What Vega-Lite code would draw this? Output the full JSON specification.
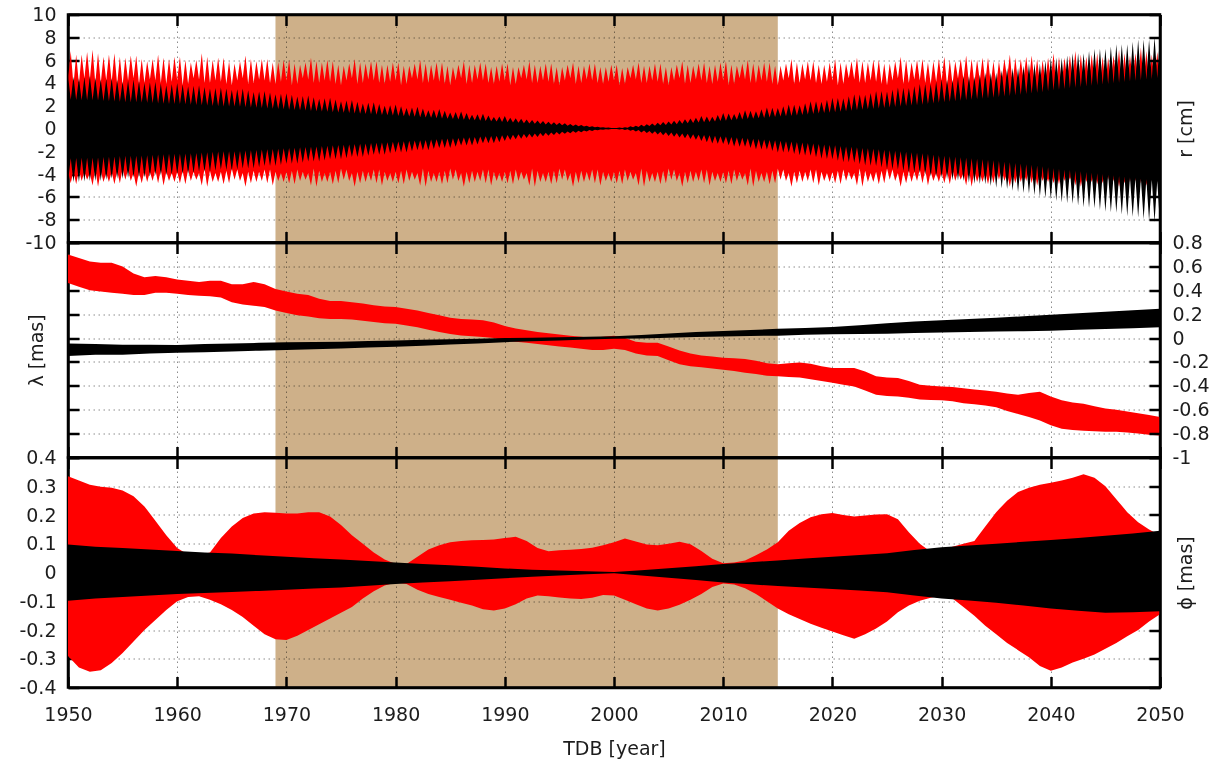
{
  "$schema": "https://vega.github.io/schema/vega-lite/v6.json",
  "background": "white",
  "padding": {"left": 17, "top": 3.5, "right": 5, "bottom": 5},
  "spacing": 0,
  "bounds": "flush",
  "config": {
    "font": "DejaVu Sans",
    "locale": {"number": {"decimal": ".", "thousands": ",", "grouping": [3], "currency": ["$", ""], "minus": "-"}},
    "view": {"stroke": "#000000", "strokeWidth": 2.5},
    "axis": {
      "labelFont": "DejaVu Sans", "labelFontSize": 19, "labelColor": "#1c1c1c",
      "titleFont": "DejaVu Sans", "titleFontSize": 19, "titleFontWeight": "normal", "titleColor": "#1c1c1c",
      "domain": true, "domainColor": "#000000", "domainWidth": 2.5,
      "ticks": true, "tickColor": "#000000", "tickWidth": 2.5, "tickSize": -11,
      "gridColor": "#8c8c8c", "gridWidth": 1, "gridDash": [1.5, 3.5],
      "labelPadding": 23, "labelFlush": false, "labelOverlap": false,
      "minExtent": 0, "maxExtent": 0
    }
  },
  "datasets": {
    "band": [{"start": 1969, "end": 2015}],
    "r": [
      {"t":1950,"a":4.2,"b":-3.8,"c":4.7,"d":-4.7},{"t":1950.25,"a":6.8,"b":-4.8,"c":2.53,"d":-2.62},{"t":1950.5,"a":3.8,"b":-3.7,"c":4.55,"d":-4.7},{"t":1950.75,"a":6.5,"b":-4.9,"c":2.5,"d":-2.59},
      {"t":1951,"a":3.9,"b":-3.6,"c":4.4,"d":-4.7},{"t":1951.25,"a":6.5,"b":-4.6,"c":2.48,"d":-2.57},{"t":1951.5,"a":4.4,"b":-3.8,"c":4.5,"d":-4.65},{"t":1951.75,"a":6.7,"b":-4.5,"c":2.48,"d":-2.57},
      {"t":1952,"a":4.3,"b":-3.9,"c":4.6,"d":-4.6},{"t":1952.25,"a":6.9,"b":-5.0,"c":2.48,"d":-2.57},{"t":1952.5,"a":4.0,"b":-3.5,"c":4.45,"d":-4.6},{"t":1952.75,"a":6.6,"b":-5.1,"c":2.45,"d":-2.54},
      {"t":1953,"a":4.0,"b":-3.7,"c":4.3,"d":-4.6},{"t":1953.25,"a":6.3,"b":-4.7,"c":2.42,"d":-2.51},{"t":1953.5,"a":4.2,"b":-3.9,"c":4.35,"d":-4.5},{"t":1953.75,"a":6.5,"b":-4.7,"c":2.39,"d":-2.48},
      {"t":1954,"a":4.1,"b":-3.8,"c":4.4,"d":-4.4},{"t":1954.25,"a":6.6,"b":-4.9,"c":2.37,"d":-2.45},{"t":1954.5,"a":3.9,"b":-3.7,"c":4.25,"d":-4.4},{"t":1954.75,"a":6.3,"b":-4.8,"c":2.34,"d":-2.42},
      {"t":1955,"a":3.8,"b":-3.5,"c":4.1,"d":-4.4},{"t":1955.25,"a":6.2,"b":-4.5,"c":2.31,"d":-2.39},{"t":1955.5,"a":4.2,"b":-3.6,"c":4.2,"d":-4.35},{"t":1955.75,"a":6.4,"b":-4.6,"c":2.31,"d":-2.39},
      {"t":1956,"a":4.4,"b":-3.9,"c":4.3,"d":-4.3},{"t":1956.25,"a":6.4,"b":-5.1,"c":2.31,"d":-2.39},{"t":1956.5,"a":3.9,"b":-3.8,"c":4.15,"d":-4.3},{"t":1956.75,"a":6.1,"b":-4.8,"c":2.28,"d":-2.37},
      {"t":1957,"a":4.0,"b":-3.7,"c":4.0,"d":-4.3},{"t":1957.25,"a":5.9,"b":-4.7,"c":2.26,"d":-2.34},{"t":1957.5,"a":4.3,"b":-3.8,"c":4.05,"d":-4.2},{"t":1957.75,"a":6.1,"b":-4.6,"c":2.23,"d":-2.31},
      {"t":1958,"a":4.2,"b":-3.6,"c":4.1,"d":-4.1},{"t":1958.25,"a":6.5,"b":-4.8,"c":2.2,"d":-2.28},{"t":1958.5,"a":4.0,"b":-3.6,"c":3.95,"d":-4.1},{"t":1958.75,"a":6.2,"b":-5.0,"c":2.17,"d":-2.25},
      {"t":1959,"a":3.9,"b":-3.8,"c":3.8,"d":-4.1},{"t":1959.25,"a":6.1,"b":-4.6,"c":2.15,"d":-2.22},{"t":1959.5,"a":4.1,"b":-3.9,"c":3.9,"d":-4.05},{"t":1959.75,"a":6.3,"b":-4.7,"c":2.15,"d":-2.22},
      {"t":1960,"a":4.2,"b":-3.8,"c":4.0,"d":-4.0},{"t":1960.25,"a":6.3,"b":-4.8,"c":2.15,"d":-2.22},{"t":1960.5,"a":3.8,"b":-3.7,"c":3.85,"d":-4.0},{"t":1960.75,"a":6.0,"b":-4.9,"c":2.12,"d":-2.19},
      {"t":1961,"a":3.9,"b":-3.6,"c":3.7,"d":-4.0},{"t":1961.25,"a":5.8,"b":-4.6,"c":2.09,"d":-2.17},{"t":1961.5,"a":4.4,"b":-3.8,"c":3.75,"d":-3.9},{"t":1961.75,"a":6.0,"b":-4.5,"c":2.06,"d":-2.14},
      {"t":1962,"a":4.3,"b":-3.9,"c":3.8,"d":-3.8},{"t":1962.25,"a":6.6,"b":-5.0,"c":2.04,"d":-2.11},{"t":1962.5,"a":4.0,"b":-3.5,"c":3.65,"d":-3.8},{"t":1962.75,"a":6.3,"b":-5.1,"c":2.01,"d":-2.08},
      {"t":1963,"a":4.0,"b":-3.7,"c":3.5,"d":-3.8},{"t":1963.25,"a":6.0,"b":-4.7,"c":1.98,"d":-2.05},{"t":1963.5,"a":4.2,"b":-3.9,"c":3.55,"d":-3.7},{"t":1963.75,"a":6.2,"b":-4.7,"c":1.95,"d":-2.02},
      {"t":1964,"a":4.1,"b":-3.8,"c":3.6,"d":-3.6},{"t":1964.25,"a":6.2,"b":-4.9,"c":1.93,"d":-2.0},{"t":1964.5,"a":3.9,"b":-3.7,"c":3.5,"d":-3.65},{"t":1964.75,"a":5.9,"b":-4.8,"c":1.93,"d":-2.0},
      {"t":1965,"a":3.8,"b":-3.5,"c":3.4,"d":-3.7},{"t":1965.25,"a":5.7,"b":-4.5,"c":1.93,"d":-2.0},{"t":1965.5,"a":4.2,"b":-3.6,"c":3.45,"d":-3.6},{"t":1965.75,"a":5.9,"b":-4.6,"c":1.9,"d":-1.97},
      {"t":1966,"a":4.4,"b":-3.9,"c":3.5,"d":-3.5},{"t":1966.25,"a":6.4,"b":-5.1,"c":1.87,"d":-1.94},{"t":1966.5,"a":3.9,"b":-3.8,"c":3.35,"d":-3.5},{"t":1966.75,"a":6.1,"b":-4.8,"c":1.84,"d":-1.91},
      {"t":1967,"a":4.0,"b":-3.7,"c":3.2,"d":-3.5},{"t":1967.25,"a":5.9,"b":-4.7,"c":1.82,"d":-1.88},{"t":1967.5,"a":4.3,"b":-3.8,"c":3.25,"d":-3.4},{"t":1967.75,"a":6.1,"b":-4.6,"c":1.79,"d":-1.85},
      {"t":1968,"a":4.2,"b":-3.6,"c":3.3,"d":-3.3},{"t":1968.25,"a":6.1,"b":-4.8,"c":1.76,"d":-1.82},{"t":1968.5,"a":4.0,"b":-3.6,"c":3.15,"d":-3.3},{"t":1968.75,"a":5.8,"b":-5.0,"c":1.73,"d":-1.8},
      {"t":1969,"a":3.9,"b":-3.8,"c":3.0,"d":-3.3},{"t":1969.25,"a":5.8,"b":-4.6,"c":1.71,"d":-1.77},{"t":1969.5,"a":4.1,"b":-3.9,"c":3.05,"d":-3.2},{"t":1969.75,"a":6.0,"b":-4.7,"c":1.68,"d":-1.74},
      {"t":1970,"a":4.2,"b":-3.8,"c":3.1,"d":-3.1},{"t":1970.25,"a":6.0,"b":-4.8,"c":1.65,"d":-1.71},{"t":1970.5,"a":3.8,"b":-3.7,"c":2.95,"d":-3.1},{"t":1970.75,"a":5.7,"b":-4.9,"c":1.62,"d":-1.68},
      {"t":1971,"a":3.9,"b":-3.6,"c":2.8,"d":-3.1},{"t":1971.25,"a":5.6,"b":-4.6,"c":1.6,"d":-1.65},{"t":1971.5,"a":4.4,"b":-3.8,"c":2.85,"d":-3.0},{"t":1971.75,"a":5.8,"b":-4.5,"c":1.57,"d":-1.62},
      {"t":1972,"a":4.3,"b":-3.9,"c":2.9,"d":-2.9},{"t":1972.25,"a":6.2,"b":-5.0,"c":1.54,"d":-1.6},{"t":1972.5,"a":4.0,"b":-3.5,"c":2.75,"d":-2.9},{"t":1972.75,"a":5.9,"b":-5.1,"c":1.51,"d":-1.57},
      {"t":1973,"a":4.0,"b":-3.7,"c":2.6,"d":-2.9},{"t":1973.25,"a":5.8,"b":-4.7,"c":1.49,"d":-1.54},{"t":1973.5,"a":4.2,"b":-3.9,"c":2.65,"d":-2.8},{"t":1973.75,"a":6.0,"b":-4.7,"c":1.46,"d":-1.51},
      {"t":1974,"a":4.1,"b":-3.8,"c":2.7,"d":-2.7},{"t":1974.25,"a":5.9,"b":-4.9,"c":1.43,"d":-1.48},{"t":1974.5,"a":3.9,"b":-3.7,"c":2.55,"d":-2.7},{"t":1974.75,"a":5.6,"b":-4.8,"c":1.4,"d":-1.45},
      {"t":1975,"a":3.8,"b":-3.5,"c":2.4,"d":-2.7},{"t":1975.25,"a":5.5,"b":-4.5,"c":1.38,"d":-1.43},{"t":1975.5,"a":4.2,"b":-3.6,"c":2.45,"d":-2.6},{"t":1975.75,"a":5.7,"b":-4.6,"c":1.35,"d":-1.4},
      {"t":1976,"a":4.4,"b":-3.9,"c":2.5,"d":-2.5},{"t":1976.25,"a":6.1,"b":-5.1,"c":1.32,"d":-1.37},{"t":1976.5,"a":3.9,"b":-3.8,"c":2.35,"d":-2.5},{"t":1976.75,"a":5.8,"b":-4.8,"c":1.29,"d":-1.34},
      {"t":1977,"a":4.0,"b":-3.7,"c":2.2,"d":-2.5},{"t":1977.25,"a":5.7,"b":-4.7,"c":1.27,"d":-1.31},{"t":1977.5,"a":4.3,"b":-3.8,"c":2.25,"d":-2.4},{"t":1977.75,"a":5.9,"b":-4.6,"c":1.24,"d":-1.28},
      {"t":1978,"a":4.2,"b":-3.6,"c":2.3,"d":-2.3},{"t":1978.25,"a":5.9,"b":-4.8,"c":1.21,"d":-1.25},{"t":1978.5,"a":4.0,"b":-3.6,"c":2.15,"d":-2.3},{"t":1978.75,"a":5.6,"b":-5.0,"c":1.18,"d":-1.23},
      {"t":1979,"a":3.9,"b":-3.8,"c":2.0,"d":-2.3},{"t":1979.25,"a":5.6,"b":-4.6,"c":1.16,"d":-1.2},{"t":1979.5,"a":4.1,"b":-3.9,"c":2.05,"d":-2.2},{"t":1979.75,"a":5.8,"b":-4.7,"c":1.13,"d":-1.17},
      {"t":1980,"a":4.2,"b":-3.8,"c":2.1,"d":-2.1},{"t":1980.25,"a":5.8,"b":-4.8,"c":1.1,"d":-1.14},{"t":1980.5,"a":3.8,"b":-3.7,"c":1.95,"d":-2.1},{"t":1980.75,"a":5.5,"b":-4.9,"c":1.07,"d":-1.11},
      {"t":1981,"a":3.9,"b":-3.6,"c":1.8,"d":-2.1},{"t":1981.25,"a":5.5,"b":-4.6,"c":1.05,"d":-1.08},{"t":1981.5,"a":4.4,"b":-3.8,"c":1.85,"d":-2.0},{"t":1981.75,"a":5.7,"b":-4.5,"c":1.02,"d":-1.05},
      {"t":1982,"a":4.3,"b":-3.9,"c":1.9,"d":-1.9},{"t":1982.25,"a":6.0,"b":-5.0,"c":0.99,"d":-1.03},{"t":1982.5,"a":4.0,"b":-3.5,"c":1.75,"d":-1.9},{"t":1982.75,"a":5.7,"b":-5.1,"c":0.96,"d":-1.0},
      {"t":1983,"a":4.0,"b":-3.7,"c":1.6,"d":-1.9},{"t":1983.25,"a":5.6,"b":-4.7,"c":0.94,"d":-0.97},{"t":1983.5,"a":4.2,"b":-3.9,"c":1.65,"d":-1.8},{"t":1983.75,"a":5.8,"b":-4.7,"c":0.91,"d":-0.94},
      {"t":1984,"a":4.1,"b":-3.8,"c":1.7,"d":-1.7},{"t":1984.25,"a":5.8,"b":-4.9,"c":0.88,"d":-0.91},{"t":1984.5,"a":3.9,"b":-3.7,"c":1.55,"d":-1.7},{"t":1984.75,"a":5.5,"b":-4.8,"c":0.85,"d":-0.88},
      {"t":1985,"a":3.8,"b":-3.5,"c":1.4,"d":-1.7},{"t":1985.25,"a":5.4,"b":-4.5,"c":0.83,"d":-0.86},{"t":1985.5,"a":4.2,"b":-3.6,"c":1.45,"d":-1.6},{"t":1985.75,"a":5.6,"b":-4.6,"c":0.8,"d":-0.83},
      {"t":1986,"a":4.4,"b":-3.9,"c":1.5,"d":-1.5},{"t":1986.25,"a":5.9,"b":-5.1,"c":0.77,"d":-0.8},{"t":1986.5,"a":3.9,"b":-3.8,"c":1.35,"d":-1.5},{"t":1986.75,"a":5.6,"b":-4.8,"c":0.74,"d":-0.77},
      {"t":1987,"a":4.0,"b":-3.7,"c":1.2,"d":-1.5},{"t":1987.25,"a":5.6,"b":-4.7,"c":0.72,"d":-0.74},{"t":1987.5,"a":4.3,"b":-3.8,"c":1.25,"d":-1.4},{"t":1987.75,"a":5.8,"b":-4.6,"c":0.69,"d":-0.71},
      {"t":1988,"a":4.2,"b":-3.6,"c":1.3,"d":-1.3},{"t":1988.25,"a":5.7,"b":-4.8,"c":0.66,"d":-0.68},{"t":1988.5,"a":4.0,"b":-3.6,"c":1.15,"d":-1.3},{"t":1988.75,"a":5.4,"b":-5.0,"c":0.63,"d":-0.66},
      {"t":1989,"a":3.9,"b":-3.8,"c":1.0,"d":-1.3},{"t":1989.25,"a":5.5,"b":-4.6,"c":0.61,"d":-0.63},{"t":1989.5,"a":4.1,"b":-3.9,"c":1.05,"d":-1.2},{"t":1989.75,"a":5.7,"b":-4.7,"c":0.58,"d":-0.6},
      {"t":1990,"a":4.2,"b":-3.8,"c":1.1,"d":-1.1},{"t":1990.25,"a":5.7,"b":-4.8,"c":0.55,"d":-0.57},{"t":1990.5,"a":3.8,"b":-3.7,"c":0.95,"d":-1.0},{"t":1990.75,"a":5.4,"b":-4.9,"c":0.52,"d":-0.54},
      {"t":1991,"a":3.9,"b":-3.6,"c":0.9,"d":-0.95},{"t":1991.25,"a":5.4,"b":-4.6,"c":0.5,"d":-0.51},{"t":1991.5,"a":4.4,"b":-3.8,"c":0.85,"d":-0.89},{"t":1991.75,"a":5.6,"b":-4.5,"c":0.47,"d":-0.48},
      {"t":1992,"a":4.3,"b":-3.9,"c":0.8,"d":-0.84},{"t":1992.25,"a":5.9,"b":-5.0,"c":0.44,"d":-0.46},{"t":1992.5,"a":4.0,"b":-3.5,"c":0.75,"d":-0.79},{"t":1992.75,"a":5.6,"b":-5.1,"c":0.41,"d":-0.43},
      {"t":1993,"a":4.0,"b":-3.7,"c":0.7,"d":-0.74},{"t":1993.25,"a":5.5,"b":-4.7,"c":0.39,"d":-0.4},{"t":1993.5,"a":4.2,"b":-3.9,"c":0.65,"d":-0.68},{"t":1993.75,"a":5.7,"b":-4.7,"c":0.36,"d":-0.37},
      {"t":1994,"a":4.1,"b":-3.8,"c":0.6,"d":-0.63},{"t":1994.25,"a":5.7,"b":-4.9,"c":0.33,"d":-0.34},{"t":1994.5,"a":3.9,"b":-3.7,"c":0.55,"d":-0.58},{"t":1994.75,"a":5.4,"b":-4.8,"c":0.3,"d":-0.31},
      {"t":1995,"a":3.8,"b":-3.5,"c":0.5,"d":-0.53},{"t":1995.25,"a":5.4,"b":-4.5,"c":0.28,"d":-0.29},{"t":1995.5,"a":4.2,"b":-3.6,"c":0.45,"d":-0.47},{"t":1995.75,"a":5.6,"b":-4.6,"c":0.25,"d":-0.26},
      {"t":1996,"a":4.4,"b":-3.9,"c":0.4,"d":-0.42},{"t":1996.25,"a":5.8,"b":-5.1,"c":0.22,"d":-0.23},{"t":1996.5,"a":3.9,"b":-3.8,"c":0.35,"d":-0.37},{"t":1996.75,"a":5.5,"b":-4.8,"c":0.19,"d":-0.2},
      {"t":1997,"a":4.0,"b":-3.7,"c":0.3,"d":-0.32},{"t":1997.25,"a":5.5,"b":-4.7,"c":0.17,"d":-0.17},{"t":1997.5,"a":4.3,"b":-3.8,"c":0.25,"d":-0.26},{"t":1997.75,"a":5.7,"b":-4.6,"c":0.14,"d":-0.14},
      {"t":1998,"a":4.2,"b":-3.6,"c":0.2,"d":-0.21},{"t":1998.25,"a":5.7,"b":-4.8,"c":0.11,"d":-0.11},{"t":1998.5,"a":4.0,"b":-3.6,"c":0.15,"d":-0.16},{"t":1998.75,"a":5.4,"b":-5.0,"c":0.08,"d":-0.09},
      {"t":1999,"a":3.9,"b":-3.8,"c":0.1,"d":-0.11},{"t":1999.25,"a":5.4,"b":-4.6,"c":0.06,"d":-0.06},{"t":1999.5,"a":4.1,"b":-3.9,"c":0.08,"d":-0.08},{"t":1999.75,"a":5.6,"b":-4.7,"c":0.05,"d":-0.05},
      {"t":2000,"a":4.2,"b":-3.8,"c":0.05,"d":-0.05},{"t":2000.25,"a":5.6,"b":-4.8,"c":0.04,"d":-0.04},{"t":2000.5,"a":3.8,"b":-3.7,"c":0.09,"d":-0.09},{"t":2000.75,"a":5.3,"b":-4.9,"c":0.05,"d":-0.05},
      {"t":2001,"a":3.9,"b":-3.6,"c":0.12,"d":-0.13},{"t":2001.25,"a":5.4,"b":-4.6,"c":0.07,"d":-0.07},{"t":2001.5,"a":4.4,"b":-3.8,"c":0.19,"d":-0.2},{"t":2001.75,"a":5.6,"b":-4.5,"c":0.1,"d":-0.11},
      {"t":2002,"a":4.3,"b":-3.9,"c":0.25,"d":-0.26},{"t":2002.25,"a":5.8,"b":-5.0,"c":0.14,"d":-0.14},{"t":2002.5,"a":4.0,"b":-3.5,"c":0.32,"d":-0.34},{"t":2002.75,"a":5.5,"b":-5.1,"c":0.18,"d":-0.18},
      {"t":2003,"a":4.0,"b":-3.7,"c":0.38,"d":-0.4},{"t":2003.25,"a":5.5,"b":-4.7,"c":0.21,"d":-0.22},{"t":2003.5,"a":4.2,"b":-3.9,"c":0.44,"d":-0.46},{"t":2003.75,"a":5.7,"b":-4.7,"c":0.24,"d":-0.25},
      {"t":2004,"a":4.1,"b":-3.8,"c":0.5,"d":-0.53},{"t":2004.25,"a":5.7,"b":-4.9,"c":0.28,"d":-0.29},{"t":2004.5,"a":3.9,"b":-3.7,"c":0.56,"d":-0.59},{"t":2004.75,"a":5.4,"b":-4.8,"c":0.31,"d":-0.32},
      {"t":2005,"a":3.8,"b":-3.5,"c":0.62,"d":-0.65},{"t":2005.25,"a":5.4,"b":-4.5,"c":0.34,"d":-0.35},{"t":2005.5,"a":4.2,"b":-3.6,"c":0.69,"d":-0.72},{"t":2005.75,"a":5.6,"b":-4.6,"c":0.38,"d":-0.39},
      {"t":2006,"a":4.4,"b":-3.9,"c":0.75,"d":-0.79},{"t":2006.25,"a":5.9,"b":-5.1,"c":0.41,"d":-0.43},{"t":2006.5,"a":3.9,"b":-3.8,"c":0.82,"d":-0.86},{"t":2006.75,"a":5.6,"b":-4.8,"c":0.45,"d":-0.47},
      {"t":2007,"a":4.0,"b":-3.7,"c":0.88,"d":-0.92},{"t":2007.25,"a":5.5,"b":-4.7,"c":0.48,"d":-0.5},{"t":2007.5,"a":4.3,"b":-3.8,"c":0.94,"d":-0.99},{"t":2007.75,"a":5.7,"b":-4.6,"c":0.52,"d":-0.54},
      {"t":2008,"a":4.2,"b":-3.6,"c":1.1,"d":-1.1},{"t":2008.25,"a":5.8,"b":-4.8,"c":0.55,"d":-0.57},{"t":2008.5,"a":4.0,"b":-3.6,"c":1.06,"d":-1.21},{"t":2008.75,"a":5.5,"b":-5.0,"c":0.58,"d":-0.6},
      {"t":2009,"a":3.9,"b":-3.8,"c":1.02,"d":-1.32},{"t":2009.25,"a":5.6,"b":-4.6,"c":0.62,"d":-0.64},{"t":2009.5,"a":4.1,"b":-3.9,"c":1.19,"d":-1.34},{"t":2009.75,"a":5.8,"b":-4.7,"c":0.65,"d":-0.68},
      {"t":2010,"a":4.2,"b":-3.8,"c":1.35,"d":-1.35},{"t":2010.25,"a":5.9,"b":-4.8,"c":0.69,"d":-0.71},{"t":2010.5,"a":3.8,"b":-3.7,"c":1.31,"d":-1.46},{"t":2010.75,"a":5.6,"b":-4.9,"c":0.72,"d":-0.75},
      {"t":2011,"a":3.9,"b":-3.6,"c":1.28,"d":-1.58},{"t":2011.25,"a":5.5,"b":-4.6,"c":0.76,"d":-0.79},{"t":2011.5,"a":4.4,"b":-3.8,"c":1.44,"d":-1.59},{"t":2011.75,"a":5.7,"b":-4.5,"c":0.79,"d":-0.82},
      {"t":2012,"a":4.3,"b":-3.9,"c":1.6,"d":-1.6},{"t":2012.25,"a":6.0,"b":-5.0,"c":0.83,"d":-0.86},{"t":2012.5,"a":4.0,"b":-3.5,"c":1.56,"d":-1.71},{"t":2012.75,"a":5.7,"b":-5.1,"c":0.86,"d":-0.89},
      {"t":2013,"a":4.0,"b":-3.7,"c":1.52,"d":-1.82},{"t":2013.25,"a":5.6,"b":-4.7,"c":0.89,"d":-0.92},{"t":2013.5,"a":4.2,"b":-3.9,"c":1.69,"d":-1.84},{"t":2013.75,"a":5.8,"b":-4.7,"c":0.93,"d":-0.96},
      {"t":2014,"a":4.1,"b":-3.8,"c":1.85,"d":-1.85},{"t":2014.25,"a":5.8,"b":-4.9,"c":0.96,"d":-1.0},{"t":2014.5,"a":3.9,"b":-3.7,"c":1.82,"d":-1.97},{"t":2014.75,"a":5.5,"b":-4.8,"c":1.0,"d":-1.04},
      {"t":2015,"a":3.8,"b":-3.5,"c":1.8,"d":-2.1},{"t":2015.25,"a":5.5,"b":-4.5,"c":1.05,"d":-1.08},{"t":2015.5,"a":4.2,"b":-3.6,"c":1.95,"d":-2.1},{"t":2015.75,"a":5.7,"b":-4.6,"c":1.07,"d":-1.11},
      {"t":2016,"a":4.4,"b":-3.9,"c":2.1,"d":-2.1},{"t":2016.25,"a":6.1,"b":-5.1,"c":1.1,"d":-1.14},{"t":2016.5,"a":3.9,"b":-3.8,"c":2.08,"d":-2.23},{"t":2016.75,"a":5.8,"b":-4.8,"c":1.14,"d":-1.19},
      {"t":2017,"a":4.0,"b":-3.7,"c":2.05,"d":-2.35},{"t":2017.25,"a":5.7,"b":-4.7,"c":1.18,"d":-1.23},{"t":2017.5,"a":4.3,"b":-3.8,"c":2.22,"d":-2.37},{"t":2017.75,"a":5.9,"b":-4.6,"c":1.22,"d":-1.27},
      {"t":2018,"a":4.2,"b":-3.6,"c":2.4,"d":-2.4},{"t":2018.25,"a":5.9,"b":-4.8,"c":1.27,"d":-1.31},{"t":2018.5,"a":4.0,"b":-3.6,"c":2.38,"d":-2.53},{"t":2018.75,"a":5.6,"b":-5.0,"c":1.31,"d":-1.36},
      {"t":2019,"a":3.9,"b":-3.8,"c":2.35,"d":-2.65},{"t":2019.25,"a":5.6,"b":-4.6,"c":1.35,"d":-1.4},{"t":2019.5,"a":4.1,"b":-3.9,"c":2.52,"d":-2.67},{"t":2019.75,"a":5.8,"b":-4.7,"c":1.39,"d":-1.44},
      {"t":2020,"a":4.2,"b":-3.8,"c":2.7,"d":-2.7},{"t":2020.25,"a":6.1,"b":-4.8,"c":1.43,"d":-1.48},{"t":2020.5,"a":3.8,"b":-3.7,"c":2.68,"d":-2.83},{"t":2020.75,"a":5.8,"b":-4.9,"c":1.47,"d":-1.53},
      {"t":2021,"a":3.9,"b":-3.6,"c":2.65,"d":-2.95},{"t":2021.25,"a":5.7,"b":-4.6,"c":1.51,"d":-1.57},{"t":2021.5,"a":4.4,"b":-3.8,"c":2.82,"d":-2.97},{"t":2021.75,"a":5.9,"b":-4.5,"c":1.55,"d":-1.61},
      {"t":2022,"a":4.3,"b":-3.9,"c":3.0,"d":-3.0},{"t":2022.25,"a":6.2,"b":-5.0,"c":1.6,"d":-1.65},{"t":2022.5,"a":4.0,"b":-3.5,"c":2.98,"d":-3.13},{"t":2022.75,"a":5.9,"b":-5.1,"c":1.64,"d":-1.7},
      {"t":2023,"a":4.0,"b":-3.7,"c":2.95,"d":-3.25},{"t":2023.25,"a":5.8,"b":-4.7,"c":1.68,"d":-1.74},{"t":2023.5,"a":4.2,"b":-3.9,"c":3.12,"d":-3.27},{"t":2023.75,"a":6.0,"b":-4.7,"c":1.72,"d":-1.78},
      {"t":2024,"a":4.1,"b":-3.8,"c":3.3,"d":-3.3},{"t":2024.25,"a":6.0,"b":-4.9,"c":1.76,"d":-1.82},{"t":2024.5,"a":3.9,"b":-3.7,"c":3.28,"d":-3.43},{"t":2024.75,"a":5.7,"b":-4.8,"c":1.8,"d":-1.87},
      {"t":2025,"a":3.8,"b":-3.5,"c":3.25,"d":-3.55},{"t":2025.25,"a":5.7,"b":-4.5,"c":1.84,"d":-1.91},{"t":2025.5,"a":4.2,"b":-3.6,"c":3.42,"d":-3.57},{"t":2025.75,"a":5.9,"b":-4.6,"c":1.88,"d":-1.95},
      {"t":2026,"a":4.4,"b":-3.9,"c":3.6,"d":-3.6},{"t":2026.25,"a":6.3,"b":-5.1,"c":1.93,"d":-2.0},{"t":2026.5,"a":3.9,"b":-3.8,"c":3.58,"d":-3.73},{"t":2026.75,"a":6.0,"b":-4.8,"c":1.97,"d":-2.04},
      {"t":2027,"a":4.0,"b":-3.7,"c":3.55,"d":-3.85},{"t":2027.25,"a":5.8,"b":-4.7,"c":2.01,"d":-2.08},{"t":2027.5,"a":4.3,"b":-3.8,"c":3.72,"d":-3.87},{"t":2027.75,"a":6.0,"b":-4.6,"c":2.05,"d":-2.12},
      {"t":2028,"a":4.2,"b":-3.6,"c":3.9,"d":-3.9},{"t":2028.25,"a":6.1,"b":-4.8,"c":2.09,"d":-2.17},{"t":2028.5,"a":4.0,"b":-3.6,"c":3.9,"d":-4.05},{"t":2028.75,"a":5.8,"b":-5.0,"c":2.15,"d":-2.22},
      {"t":2029,"a":3.9,"b":-3.8,"c":3.9,"d":-4.2},{"t":2029.25,"a":5.9,"b":-4.6,"c":2.2,"d":-2.28},{"t":2029.5,"a":4.1,"b":-3.9,"c":4.1,"d":-4.25},{"t":2029.75,"a":6.1,"b":-4.7,"c":2.26,"d":-2.34},
      {"t":2030,"a":4.2,"b":-3.8,"c":4.3,"d":-4.3},{"t":2030.25,"a":6.3,"b":-4.8,"c":2.31,"d":-2.39},{"t":2030.5,"a":3.8,"b":-3.7,"c":4.28,"d":-4.43},{"t":2030.75,"a":6.0,"b":-4.9,"c":2.35,"d":-2.44},
      {"t":2031,"a":3.9,"b":-3.6,"c":4.25,"d":-4.55},{"t":2031.25,"a":5.9,"b":-4.6,"c":2.39,"d":-2.48},{"t":2031.5,"a":4.4,"b":-3.8,"c":4.42,"d":-4.57},{"t":2031.75,"a":6.1,"b":-4.5,"c":2.43,"d":-2.52},
      {"t":2032,"a":4.3,"b":-3.9,"c":4.6,"d":-4.6},{"t":2032.25,"a":6.4,"b":-5.0,"c":2.48,"d":-2.57},{"t":2032.5,"a":4.0,"b":-3.5,"c":4.58,"d":-4.73},{"t":2032.75,"a":6.1,"b":-5.1,"c":2.52,"d":-2.61},
      {"t":2033,"a":4.0,"b":-3.7,"c":4.55,"d":-4.85},{"t":2033.25,"a":6.0,"b":-4.7,"c":2.56,"d":-2.65},{"t":2033.5,"a":4.2,"b":-3.9,"c":4.72,"d":-4.87},{"t":2033.75,"a":6.2,"b":-4.7,"c":2.6,"d":-2.69},
      {"t":2034,"a":4.1,"b":-3.8,"c":4.9,"d":-4.9},{"t":2034.25,"a":6.2,"b":-4.9,"c":2.64,"d":-2.74},{"t":2034.5,"a":3.9,"b":-3.7,"c":4.9,"d":-5.05},{"t":2034.75,"a":5.9,"b":-4.8,"c":2.7,"d":-2.79},
      {"t":2035,"a":3.8,"b":-3.5,"c":4.9,"d":-5.2},{"t":2035.25,"a":5.9,"b":-4.5,"c":2.75,"d":-2.85},{"t":2035.5,"a":4.2,"b":-3.6,"c":5.1,"d":-5.25},{"t":2035.75,"a":6.1,"b":-4.6,"c":2.81,"d":-2.91},
      {"t":2036,"a":4.4,"b":-3.9,"c":5.3,"d":-5.3},{"t":2036.25,"a":6.5,"b":-5.1,"c":2.86,"d":-2.96},{"t":2036.5,"a":3.9,"b":-3.8,"c":5.3,"d":-5.45},{"t":2036.75,"a":6.2,"b":-4.8,"c":2.92,"d":-3.02},
      {"t":2037,"a":4.0,"b":-3.7,"c":5.3,"d":-5.6},{"t":2037.25,"a":6.1,"b":-4.7,"c":2.97,"d":-3.08},{"t":2037.5,"a":4.3,"b":-3.8,"c":5.5,"d":-5.65},{"t":2037.75,"a":6.3,"b":-4.6,"c":3.03,"d":-3.14},
      {"t":2038,"a":4.2,"b":-3.6,"c":5.7,"d":-5.7},{"t":2038.25,"a":6.4,"b":-4.8,"c":3.08,"d":-3.19},{"t":2038.5,"a":4.0,"b":-3.6,"c":5.7,"d":-5.85},{"t":2038.75,"a":6.1,"b":-5.0,"c":3.14,"d":-3.25},
      {"t":2039,"a":3.9,"b":-3.8,"c":5.7,"d":-6.0},{"t":2039.25,"a":6.0,"b":-4.6,"c":3.19,"d":-3.31},{"t":2039.5,"a":4.1,"b":-3.9,"c":5.95,"d":-6.1},{"t":2039.75,"a":6.2,"b":-4.7,"c":3.27,"d":-3.39},
      {"t":2040,"a":4.2,"b":-3.8,"c":6.2,"d":-6.2},{"t":2040.25,"a":6.6,"b":-4.8,"c":3.36,"d":-3.48},{"t":2040.5,"a":3.8,"b":-3.7,"c":6.2,"d":-6.35},{"t":2040.75,"a":6.3,"b":-4.9,"c":3.41,"d":-3.53},
      {"t":2041,"a":3.9,"b":-3.6,"c":6.2,"d":-6.5},{"t":2041.25,"a":6.2,"b":-4.6,"c":3.47,"d":-3.59},{"t":2041.5,"a":4.4,"b":-3.8,"c":6.4,"d":-6.55},{"t":2041.75,"a":6.4,"b":-4.5,"c":3.52,"d":-3.65},
      {"t":2042,"a":4.3,"b":-3.9,"c":6.6,"d":-6.6},{"t":2042.25,"a":6.8,"b":-5.0,"c":3.58,"d":-3.71},{"t":2042.5,"a":4.0,"b":-3.5,"c":6.6,"d":-6.75},{"t":2042.75,"a":6.5,"b":-5.1,"c":3.63,"d":-3.76},
      {"t":2043,"a":4.0,"b":-3.7,"c":6.6,"d":-6.9},{"t":2043.25,"a":6.3,"b":-4.7,"c":3.69,"d":-3.82},{"t":2043.5,"a":4.2,"b":-3.9,"c":6.8,"d":-6.95},{"t":2043.75,"a":6.5,"b":-4.7,"c":3.74,"d":-3.88},
      {"t":2044,"a":4.1,"b":-3.8,"c":7.0,"d":-7.0},{"t":2044.25,"a":6.6,"b":-4.9,"c":3.8,"d":-3.93},{"t":2044.5,"a":3.9,"b":-3.7,"c":7.0,"d":-7.15},{"t":2044.75,"a":6.3,"b":-4.8,"c":3.85,"d":-3.99},
      {"t":2045,"a":3.8,"b":-3.5,"c":7.0,"d":-7.3},{"t":2045.25,"a":6.2,"b":-4.5,"c":3.91,"d":-4.05},{"t":2045.5,"a":4.2,"b":-3.6,"c":7.2,"d":-7.35},{"t":2045.75,"a":6.4,"b":-4.6,"c":3.96,"d":-4.1},
      {"t":2046,"a":4.4,"b":-3.9,"c":7.4,"d":-7.4},{"t":2046.25,"a":6.9,"b":-5.1,"c":4.02,"d":-4.16},{"t":2046.5,"a":3.9,"b":-3.8,"c":7.4,"d":-7.55},{"t":2046.75,"a":6.6,"b":-4.8,"c":4.07,"d":-4.22},
      {"t":2047,"a":4.0,"b":-3.7,"c":7.4,"d":-7.7},{"t":2047.25,"a":6.4,"b":-4.7,"c":4.13,"d":-4.28},{"t":2047.5,"a":4.3,"b":-3.8,"c":7.6,"d":-7.75},{"t":2047.75,"a":6.6,"b":-4.6,"c":4.18,"d":-4.33},
      {"t":2048,"a":4.2,"b":-3.6,"c":7.8,"d":-7.8},{"t":2048.25,"a":7.1,"b":-4.8,"c":4.24,"d":-4.39},{"t":2048.5,"a":4.0,"b":-3.6,"c":7.8,"d":-7.95},{"t":2048.75,"a":6.8,"b":-5.0,"c":4.29,"d":-4.45},
      {"t":2049,"a":3.9,"b":-3.8,"c":7.8,"d":-8.1},{"t":2049.25,"a":6.5,"b":-4.6,"c":4.35,"d":-4.5},{"t":2049.5,"a":4.1,"b":-3.9,"c":8.05,"d":-8.2},{"t":2049.75,"a":6.7,"b":-4.7,"c":4.43,"d":-4.59},
      {"t":2050,"a":4.2,"b":-3.8,"c":8.3,"d":-8.5}
    ],
    "lamRed": [
      {"t":1950,"hi":0.70,"lo":0.46},{"t":1951,"hi":0.67,"lo":0.43},{"t":1952,"hi":0.64,"lo":0.40},{"t":1953,"hi":0.63,"lo":0.39},
      {"t":1954,"hi":0.63,"lo":0.38},{"t":1955,"hi":0.60,"lo":0.37},{"t":1956,"hi":0.54,"lo":0.36},{"t":1957,"hi":0.51,"lo":0.36},
      {"t":1958,"hi":0.52,"lo":0.38},{"t":1959,"hi":0.51,"lo":0.38},{"t":1960,"hi":0.49,"lo":0.37},{"t":1961,"hi":0.48,"lo":0.36},
      {"t":1962,"hi":0.47,"lo":0.355},{"t":1963,"hi":0.48,"lo":0.35},{"t":1964,"hi":0.48,"lo":0.34},{"t":1965,"hi":0.45,"lo":0.30},
      {"t":1966,"hi":0.45,"lo":0.28},{"t":1967,"hi":0.47,"lo":0.27},{"t":1968,"hi":0.45,"lo":0.26},{"t":1969,"hi":0.41,"lo":0.23},
      {"t":1970,"hi":0.39,"lo":0.21},{"t":1971,"hi":0.37,"lo":0.19},{"t":1972,"hi":0.36,"lo":0.18},{"t":1973,"hi":0.33,"lo":0.165},
      {"t":1974,"hi":0.31,"lo":0.16},{"t":1975,"hi":0.31,"lo":0.16},{"t":1976,"hi":0.30,"lo":0.155},{"t":1977,"hi":0.29,"lo":0.145},
      {"t":1978,"hi":0.275,"lo":0.135},{"t":1979,"hi":0.265,"lo":0.125},{"t":1980,"hi":0.26,"lo":0.12},{"t":1981,"hi":0.245,"lo":0.105},
      {"t":1982,"hi":0.23,"lo":0.09},{"t":1983,"hi":0.21,"lo":0.07},{"t":1984,"hi":0.19,"lo":0.05},{"t":1985,"hi":0.17,"lo":0.035},
      {"t":1986,"hi":0.16,"lo":0.022},{"t":1987,"hi":0.155,"lo":0.015},{"t":1988,"hi":0.15,"lo":0.008},{"t":1989,"hi":0.13,"lo":0.0},
      {"t":1990,"hi":0.10,"lo":-0.02},{"t":1991,"hi":0.08,"lo":-0.03},{"t":1992,"hi":0.065,"lo":-0.04},{"t":1993,"hi":0.05,"lo":-0.05},
      {"t":1994,"hi":0.04,"lo":-0.06},{"t":1995,"hi":0.03,"lo":-0.07},{"t":1996,"hi":0.02,"lo":-0.08},{"t":1997,"hi":0.01,"lo":-0.09},
      {"t":1998,"hi":0.0,"lo":-0.10},{"t":1999,"hi":0.01,"lo":-0.10},{"t":2000,"hi":0.02,"lo":-0.09},{"t":2001,"hi":0.0,"lo":-0.10},
      {"t":2002,"hi":-0.03,"lo":-0.13},{"t":2003,"hi":-0.04,"lo":-0.145},{"t":2004,"hi":-0.04,"lo":-0.15},{"t":2005,"hi":-0.07,"lo":-0.185},
      {"t":2006,"hi":-0.105,"lo":-0.22},{"t":2007,"hi":-0.13,"lo":-0.235},{"t":2008,"hi":-0.145,"lo":-0.245},{"t":2009,"hi":-0.155,"lo":-0.255},
      {"t":2010,"hi":-0.165,"lo":-0.265},{"t":2011,"hi":-0.17,"lo":-0.275},{"t":2012,"hi":-0.175,"lo":-0.29},{"t":2013,"hi":-0.19,"lo":-0.30},
      {"t":2014,"hi":-0.21,"lo":-0.315},{"t":2015,"hi":-0.22,"lo":-0.32},{"t":2016,"hi":-0.21,"lo":-0.325},{"t":2017,"hi":-0.205,"lo":-0.33},
      {"t":2018,"hi":-0.215,"lo":-0.345},{"t":2019,"hi":-0.235,"lo":-0.36},{"t":2020,"hi":-0.25,"lo":-0.375},{"t":2021,"hi":-0.25,"lo":-0.39},
      {"t":2022,"hi":-0.25,"lo":-0.405},{"t":2023,"hi":-0.28,"lo":-0.44},{"t":2024,"hi":-0.32,"lo":-0.475},{"t":2025,"hi":-0.33,"lo":-0.485},
      {"t":2026,"hi":-0.335,"lo":-0.49},{"t":2027,"hi":-0.36,"lo":-0.50},{"t":2028,"hi":-0.39,"lo":-0.515},{"t":2029,"hi":-0.40,"lo":-0.518},
      {"t":2030,"hi":-0.405,"lo":-0.52},{"t":2031,"hi":-0.41,"lo":-0.53},{"t":2032,"hi":-0.42,"lo":-0.545},{"t":2033,"hi":-0.43,"lo":-0.555},
      {"t":2034,"hi":-0.44,"lo":-0.565},{"t":2035,"hi":-0.45,"lo":-0.58},{"t":2036,"hi":-0.465,"lo":-0.61},{"t":2037,"hi":-0.475,"lo":-0.635},
      {"t":2038,"hi":-0.46,"lo":-0.66},{"t":2039,"hi":-0.45,"lo":-0.69},{"t":2040,"hi":-0.49,"lo":-0.73},{"t":2041,"hi":-0.52,"lo":-0.76},
      {"t":2042,"hi":-0.54,"lo":-0.77},{"t":2043,"hi":-0.55,"lo":-0.775},{"t":2044,"hi":-0.57,"lo":-0.78},{"t":2045,"hi":-0.59,"lo":-0.785},
      {"t":2046,"hi":-0.60,"lo":-0.785},{"t":2047,"hi":-0.615,"lo":-0.79},{"t":2048,"hi":-0.63,"lo":-0.80},{"t":2049,"hi":-0.645,"lo":-0.81},
      {"t":2050,"hi":-0.66,"lo":-0.815}
    ],
    "lamBlack": [
      {"t":1950,"hi":-0.045,"lo":-0.15},{"t":1952.5,"hi":-0.05,"lo":-0.14},{"t":1955,"hi":-0.055,"lo":-0.14},{"t":1957.5,"hi":-0.055,"lo":-0.13},
      {"t":1960,"hi":-0.058,"lo":-0.124},{"t":1962.5,"hi":-0.05,"lo":-0.118},{"t":1965,"hi":-0.045,"lo":-0.113},{"t":1967.5,"hi":-0.04,"lo":-0.106},
      {"t":1970,"hi":-0.035,"lo":-0.1},{"t":1972.5,"hi":-0.032,"lo":-0.094},{"t":1975,"hi":-0.03,"lo":-0.087},{"t":1977.5,"hi":-0.025,"lo":-0.08},
      {"t":1980,"hi":-0.02,"lo":-0.073},{"t":1982.5,"hi":-0.015,"lo":-0.064},{"t":1985,"hi":-0.01,"lo":-0.054},{"t":1987.5,"hi":-0.005,"lo":-0.045},
      {"t":1990,"hi":0.0,"lo":-0.035},{"t":1992.5,"hi":0.003,"lo":-0.027},{"t":1995,"hi":0.006,"lo":-0.02},{"t":1997.5,"hi":0.01,"lo":-0.013},
      {"t":2000,"hi":0.015,"lo":-0.006},{"t":2002.5,"hi":0.026,"lo":-0.003},{"t":2005,"hi":0.038,"lo":0.002},{"t":2007.5,"hi":0.05,"lo":0.008},
      {"t":2010,"hi":0.06,"lo":0.014},{"t":2012.5,"hi":0.068,"lo":0.017},{"t":2015,"hi":0.077,"lo":0.02},{"t":2017.5,"hi":0.084,"lo":0.027},
      {"t":2020,"hi":0.093,"lo":0.032},{"t":2022.5,"hi":0.108,"lo":0.034},{"t":2025,"hi":0.125,"lo":0.036},{"t":2027.5,"hi":0.138,"lo":0.042},
      {"t":2030,"hi":0.15,"lo":0.047},{"t":2032.5,"hi":0.16,"lo":0.05},{"t":2035,"hi":0.17,"lo":0.054},{"t":2037.5,"hi":0.182,"lo":0.058},
      {"t":2040,"hi":0.196,"lo":0.062},{"t":2042.5,"hi":0.208,"lo":0.069},{"t":2045,"hi":0.22,"lo":0.076},{"t":2047.5,"hi":0.232,"lo":0.082},
      {"t":2050,"hi":0.245,"lo":0.09}
    ],
    "phiRed": [
      {"t":1950,"hi":0.335,"lo":-0.29},{"t":1951,"hi":0.32,"lo":-0.33},{"t":1952,"hi":0.305,"lo":-0.345},{"t":1953,"hi":0.298,"lo":-0.34},
      {"t":1954,"hi":0.295,"lo":-0.315},{"t":1955,"hi":0.285,"lo":-0.28},{"t":1956,"hi":0.265,"lo":-0.24},{"t":1957,"hi":0.23,"lo":-0.2},
      {"t":1958,"hi":0.18,"lo":-0.165},{"t":1959,"hi":0.13,"lo":-0.13},{"t":1960,"hi":0.085,"lo":-0.1},{"t":1961,"hi":0.062,"lo":-0.085},
      {"t":1962,"hi":0.06,"lo":-0.083},{"t":1963,"hi":0.07,"lo":-0.095},{"t":1964,"hi":0.12,"lo":-0.11},{"t":1965,"hi":0.16,"lo":-0.13},
      {"t":1966,"hi":0.19,"lo":-0.155},{"t":1967,"hi":0.205,"lo":-0.185},{"t":1968,"hi":0.21,"lo":-0.215},{"t":1969,"hi":0.208,"lo":-0.232},
      {"t":1970,"hi":0.205,"lo":-0.235},{"t":1971,"hi":0.205,"lo":-0.22},{"t":1972,"hi":0.21,"lo":-0.2},{"t":1973,"hi":0.21,"lo":-0.18},
      {"t":1974,"hi":0.195,"lo":-0.16},{"t":1975,"hi":0.165,"lo":-0.14},{"t":1976,"hi":0.13,"lo":-0.12},{"t":1977,"hi":0.1,"lo":-0.09},
      {"t":1978,"hi":0.07,"lo":-0.065},{"t":1979,"hi":0.045,"lo":-0.045},{"t":1980,"hi":0.03,"lo":-0.035},{"t":1981,"hi":0.03,"lo":-0.04},
      {"t":1982,"hi":0.055,"lo":-0.06},{"t":1983,"hi":0.08,"lo":-0.075},{"t":1984,"hi":0.095,"lo":-0.085},{"t":1985,"hi":0.105,"lo":-0.095},
      {"t":1986,"hi":0.11,"lo":-0.105},{"t":1987,"hi":0.112,"lo":-0.115},{"t":1988,"hi":0.113,"lo":-0.128},{"t":1989,"hi":0.115,"lo":-0.132},
      {"t":1990,"hi":0.12,"lo":-0.125},{"t":1991,"hi":0.124,"lo":-0.11},{"t":1992,"hi":0.11,"lo":-0.09},{"t":1993,"hi":0.085,"lo":-0.08},
      {"t":1994,"hi":0.074,"lo":-0.083},{"t":1995,"hi":0.077,"lo":-0.087},{"t":1996,"hi":0.079,"lo":-0.09},{"t":1997,"hi":0.082,"lo":-0.092},
      {"t":1998,"hi":0.086,"lo":-0.088},{"t":1999,"hi":0.095,"lo":-0.078},{"t":2000,"hi":0.105,"lo":-0.08},{"t":2001,"hi":0.118,"lo":-0.095},
      {"t":2002,"hi":0.108,"lo":-0.11},{"t":2003,"hi":0.097,"lo":-0.125},{"t":2004,"hi":0.095,"lo":-0.132},{"t":2005,"hi":0.1,"lo":-0.125},
      {"t":2006,"hi":0.107,"lo":-0.112},{"t":2007,"hi":0.098,"lo":-0.095},{"t":2008,"hi":0.075,"lo":-0.075},{"t":2009,"hi":0.048,"lo":-0.05},
      {"t":2010,"hi":0.032,"lo":-0.038},{"t":2011,"hi":0.035,"lo":-0.042},{"t":2012,"hi":0.042,"lo":-0.055},{"t":2013,"hi":0.06,"lo":-0.075},
      {"t":2014,"hi":0.08,"lo":-0.1},{"t":2015,"hi":0.105,"lo":-0.125},{"t":2016,"hi":0.145,"lo":-0.145},{"t":2017,"hi":0.172,"lo":-0.162},
      {"t":2018,"hi":0.192,"lo":-0.178},{"t":2019,"hi":0.203,"lo":-0.192},{"t":2020,"hi":0.207,"lo":-0.205},{"t":2021,"hi":0.2,"lo":-0.218},
      {"t":2022,"hi":0.195,"lo":-0.23},{"t":2023,"hi":0.198,"lo":-0.215},{"t":2024,"hi":0.202,"lo":-0.195},{"t":2025,"hi":0.203,"lo":-0.17},
      {"t":2026,"hi":0.185,"lo":-0.138},{"t":2027,"hi":0.14,"lo":-0.115},{"t":2028,"hi":0.1,"lo":-0.098},{"t":2029,"hi":0.072,"lo":-0.088},
      {"t":2030,"hi":0.08,"lo":-0.08},{"t":2031,"hi":0.09,"lo":-0.09},{"t":2032,"hi":0.1,"lo":-0.12},{"t":2033,"hi":0.11,"lo":-0.15},
      {"t":2034,"hi":0.16,"lo":-0.185},{"t":2035,"hi":0.21,"lo":-0.215},{"t":2036,"hi":0.25,"lo":-0.245},{"t":2037,"hi":0.28,"lo":-0.27},
      {"t":2038,"hi":0.295,"lo":-0.295},{"t":2039,"hi":0.305,"lo":-0.325},{"t":2040,"hi":0.312,"lo":-0.342},{"t":2041,"hi":0.32,"lo":-0.33},
      {"t":2042,"hi":0.33,"lo":-0.313},{"t":2043,"hi":0.342,"lo":-0.3},{"t":2044,"hi":0.33,"lo":-0.285},{"t":2045,"hi":0.3,"lo":-0.265},
      {"t":2046,"hi":0.255,"lo":-0.245},{"t":2047,"hi":0.21,"lo":-0.222},{"t":2048,"hi":0.175,"lo":-0.2},{"t":2049,"hi":0.15,"lo":-0.17},
      {"t":2050,"hi":0.13,"lo":-0.145}
    ],
    "phiBlack": [
      {"t":1950,"hi":0.097,"lo":-0.098},{"t":1952.5,"hi":0.09,"lo":-0.09},{"t":1955,"hi":0.085,"lo":-0.085},{"t":1957.5,"hi":0.08,"lo":-0.08},
      {"t":1960,"hi":0.075,"lo":-0.075},{"t":1962.5,"hi":0.07,"lo":-0.071},{"t":1965,"hi":0.066,"lo":-0.068},{"t":1967.5,"hi":0.06,"lo":-0.064},
      {"t":1970,"hi":0.055,"lo":-0.06},{"t":1972.5,"hi":0.05,"lo":-0.056},{"t":1975,"hi":0.045,"lo":-0.052},{"t":1977.5,"hi":0.04,"lo":-0.046},
      {"t":1980,"hi":0.035,"lo":-0.04},{"t":1982.5,"hi":0.03,"lo":-0.035},{"t":1985,"hi":0.025,"lo":-0.03},{"t":1987.5,"hi":0.02,"lo":-0.025},
      {"t":1990,"hi":0.014,"lo":-0.02},{"t":1992.5,"hi":0.01,"lo":-0.015},{"t":1995,"hi":0.007,"lo":-0.01},{"t":1997.5,"hi":0.004,"lo":-0.006},
      {"t":2000,"hi":0.002,"lo":-0.003},{"t":2002.5,"hi":0.008,"lo":-0.01},{"t":2005,"hi":0.015,"lo":-0.018},{"t":2007.5,"hi":0.022,"lo":-0.026},
      {"t":2010,"hi":0.03,"lo":-0.035},{"t":2012.5,"hi":0.036,"lo":-0.041},{"t":2015,"hi":0.042,"lo":-0.047},{"t":2017.5,"hi":0.049,"lo":-0.052},
      {"t":2020,"hi":0.055,"lo":-0.057},{"t":2022.5,"hi":0.061,"lo":-0.063},{"t":2025,"hi":0.067,"lo":-0.069},{"t":2027.5,"hi":0.078,"lo":-0.08},
      {"t":2030,"hi":0.088,"lo":-0.09},{"t":2032.5,"hi":0.094,"lo":-0.097},{"t":2035,"hi":0.1,"lo":-0.105},{"t":2037.5,"hi":0.107,"lo":-0.115},
      {"t":2040,"hi":0.113,"lo":-0.125},{"t":2042.5,"hi":0.12,"lo":-0.133},{"t":2045,"hi":0.128,"lo":-0.14},{"t":2047.5,"hi":0.136,"lo":-0.138},
      {"t":2050,"hi":0.145,"lo":-0.135}
    ]
  },
  "vconcat": [
    {
      "width": 1092,
      "height": 228,
      "resolve": {"axis": {"x": "independent", "y": "independent"}},
      "layer": [
        {
          "data": {"name": "band"},
          "mark": {"type": "rect", "color": "#ceb089", "blend": "multiply"},
          "encoding": {
            "x": {"field": "start", "type": "quantitative", "scale": {"domain": [1950, 2050], "nice": false, "zero": false},
                  "axis": {"orient": "bottom", "values": [1950, 1960, 1970, 1980, 1990, 2000, 2010, 2020, 2030, 2040, 2050], "labels": false, "grid": true, "title": null}},
            "x2": {"field": "end"}
          }
        },
        {
          "data": {"name": "r"},
          "mark": {"type": "area", "color": "#ff0000"},
          "encoding": {
            "x": {"field": "t", "type": "quantitative", "scale": {"domain": [1950, 2050], "nice": false, "zero": false},
                  "axis": {"orient": "top", "values": [1950, 1960, 1970, 1980, 1990, 2000, 2010, 2020, 2030, 2040, 2050], "labels": false, "grid": false, "title": null, "zindex": 1}},
            "y": {"field": "a", "type": "quantitative", "scale": {"domain": [-10, 10], "nice": false, "zero": false},
                  "axis": {"orient": "left", "values": [-10, -8, -6, -4, -2, 0, 2, 4, 6, 8, 10], "format": "d", "grid": true, "title": null}},
            "y2": {"field": "b"}
          }
        },
        {
          "data": {"name": "r"},
          "mark": {"type": "area", "color": "#000000"},
          "encoding": {
            "x": {"field": "t", "type": "quantitative", "scale": {"domain": [1950, 2050], "nice": false, "zero": false}, "axis": null},
            "y": {"field": "c", "type": "quantitative", "scale": {"domain": [-10, 10], "nice": false, "zero": false},
                  "axis": {"orient": "right", "values": [-10, -8, -6, -4, -2, 0, 2, 4, 6, 8, 10], "labels": false, "grid": false, "title": "r [cm]", "titleAngle": 270, "titleBaseline": "middle", "titlePadding": 25, "zindex": 1}},
            "y2": {"field": "d"}
          }
        }
      ]
    },
    {
      "width": 1092,
      "height": 215,
      "resolve": {"axis": {"x": "independent", "y": "independent"}},
      "layer": [
        {
          "data": {"name": "band"},
          "mark": {"type": "rect", "color": "#ceb089", "blend": "multiply"},
          "encoding": {
            "x": {"field": "start", "type": "quantitative", "scale": {"domain": [1950, 2050], "nice": false, "zero": false},
                  "axis": {"orient": "bottom", "values": [1950, 1960, 1970, 1980, 1990, 2000, 2010, 2020, 2030, 2040, 2050], "labels": false, "grid": true, "title": null}},
            "x2": {"field": "end"}
          }
        },
        {
          "data": {"name": "lamRed"},
          "mark": {"type": "area", "color": "#ff0000"},
          "encoding": {
            "x": {"field": "t", "type": "quantitative", "scale": {"domain": [1950, 2050], "nice": false, "zero": false},
                  "axis": {"orient": "top", "values": [1950, 1960, 1970, 1980, 1990, 2000, 2010, 2020, 2030, 2040, 2050], "labels": false, "grid": false, "title": null, "zindex": 1}},
            "y": {"field": "hi", "type": "quantitative", "scale": {"domain": [-1, 0.8], "nice": false, "zero": false},
                  "axis": {"orient": "left", "values": [-1, -0.8, -0.6, -0.4, -0.2, 0, 0.2, 0.4, 0.6, 0.8], "labels": false, "grid": true, "title": "λ [mas]", "titleAngle": 270, "titleBaseline": "middle", "titlePadding": 32}},
            "y2": {"field": "lo"}
          }
        },
        {
          "data": {"name": "lamBlack"},
          "mark": {"type": "area", "color": "#000000"},
          "encoding": {
            "x": {"field": "t", "type": "quantitative", "scale": {"domain": [1950, 2050], "nice": false, "zero": false}, "axis": null},
            "y": {"field": "hi", "type": "quantitative", "scale": {"domain": [-1, 0.8], "nice": false, "zero": false},
                  "axis": {"orient": "right", "values": [-1, -0.8, -0.6, -0.4, -0.2, 0, 0.2, 0.4, 0.6, 0.8], "format": "~g", "grid": false, "title": null, "zindex": 1}},
            "y2": {"field": "lo"}
          }
        }
      ]
    },
    {
      "width": 1092,
      "height": 230,
      "resolve": {"axis": {"x": "independent", "y": "independent"}},
      "layer": [
        {
          "data": {"name": "band"},
          "mark": {"type": "rect", "color": "#ceb089", "blend": "multiply"},
          "encoding": {
            "x": {"field": "start", "type": "quantitative", "scale": {"domain": [1950, 2050], "nice": false, "zero": false},
                  "axis": {"orient": "bottom", "values": [1950, 1960, 1970, 1980, 1990, 2000, 2010, 2020, 2030, 2040, 2050], "format": "d", "grid": true,
                           "labelBaseline": "middle", "labelPadding": 37.5,
                           "title": "TDB [year]", "titleBaseline": "middle", "titlePadding": 61}},
            "x2": {"field": "end"}
          }
        },
        {
          "data": {"name": "phiRed"},
          "mark": {"type": "area", "color": "#ff0000"},
          "encoding": {
            "x": {"field": "t", "type": "quantitative", "scale": {"domain": [1950, 2050], "nice": false, "zero": false},
                  "axis": {"orient": "top", "values": [1950, 1960, 1970, 1980, 1990, 2000, 2010, 2020, 2030, 2040, 2050], "labels": false, "grid": false, "title": null, "zindex": 1}},
            "y": {"field": "hi", "type": "quantitative", "scale": {"domain": [-0.4, 0.4], "nice": false, "zero": false},
                  "axis": {"orient": "left", "values": [-0.4, -0.3, -0.2, -0.1, 0, 0.1, 0.2, 0.3, 0.4], "format": "~g", "grid": true, "title": null}},
            "y2": {"field": "lo"}
          }
        },
        {
          "data": {"name": "phiBlack"},
          "mark": {"type": "area", "color": "#000000"},
          "encoding": {
            "x": {"field": "t", "type": "quantitative", "scale": {"domain": [1950, 2050], "nice": false, "zero": false}, "axis": null},
            "y": {"field": "hi", "type": "quantitative", "scale": {"domain": [-0.4, 0.4], "nice": false, "zero": false},
                  "axis": {"orient": "right", "values": [-0.4, -0.3, -0.2, -0.1, 0, 0.1, 0.2, 0.3, 0.4], "labels": false, "grid": false, "title": "ϕ [mas]", "titleAngle": 270, "titleBaseline": "middle", "titlePadding": 25, "zindex": 1}},
            "y2": {"field": "lo"}
          }
        }
      ]
    }
  ]
}
